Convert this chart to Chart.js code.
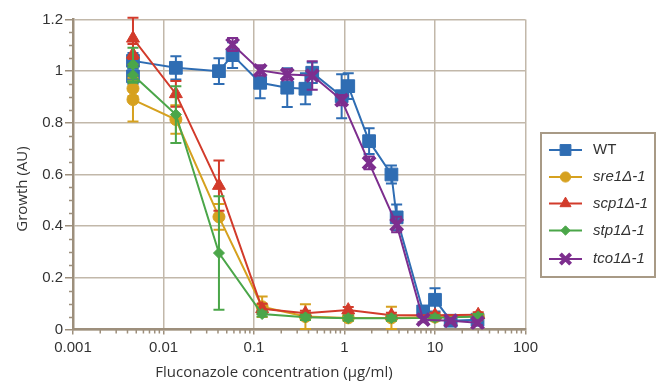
<!DOCTYPE html>
<html>
<head>
<meta charset="utf-8">
<script src="https://cdn.jsdelivr.net/npm/chart.js@4.4.1/dist/chart.umd.min.js"></script>
<style>
  html, body { margin: 0; padding: 0; background: #fff; }
  #wrap { width: 657px; height: 385px; position: relative; }
</style>
</head>
<body>
<div id="wrap"><canvas id="growthChart" width="657" height="385"></canvas></div>
<script>
// Konsentrasi flukonazol (µg/ml) dan nilai growth (AU) tiap strain
const seriesNames = ["WT", "sre1Δ-1", "scp1Δ-1", "stp1Δ-1", "tco1Δ-1"];

const wtConc = [0.0046, 0.0046, 0.0137, 0.041, 0.058, 0.117, 0.233, 0.37, 0.44, 0.93, 1.1, 1.87, 3.3, 3.77, 7.4, 10, 14.9, 29.5];
const wtGrowth = [0.98, 1.04, 1.013, 1.0, 1.062, 0.955, 0.936, 0.932, 0.994, 0.903, 0.942, 0.729, 0.6, 0.434, 0.07, 0.115, 0.034, 0.038];
const wtErr = [0.03, 0.03, 0.045, 0.05, 0.05, 0.06, 0.075, 0.06, 0.04, 0.085, 0.05, 0.05, 0.035, 0.05, 0.02, 0.045, 0.01, 0.01];

const mutantConc = [0.0046, 0.0046, 0.0137, 0.041, 0.123, 0.37, 1.1, 3.3, 10, 30];
const sre1Growth = [0.933, 0.89, 0.813, 0.436, 0.088, 0.05, 0.045, 0.045, 0.048, 0.05];
const sre1Err = [0.03, 0.085, 0.055, 0.05, 0.04, 0.048, 0.01, 0.043, 0.01, 0.01];
const scp1Growth = [1.065, 1.127, 0.912, 0.557, 0.08, 0.063, 0.075, 0.055, 0.055, 0.057];
const scp1Err = [0.04, 0.08, 0.05, 0.097, 0.02, 0.01, 0.012, 0.01, 0.01, 0.01];
const stp1Growth = [1.026, 0.985, 0.832, 0.296, 0.06, 0.047, 0.044, 0.044, 0.045, 0.05];
const stp1Err = [0.065, 0.03, 0.11, 0.22, 0.01, 0.01, 0.01, 0.01, 0.01, 0.01];

const tco1Conc = [0.058, 0.117, 0.233, 0.44, 0.93, 1.87, 3.77, 7.4, 14.9, 29.5];
const tco1Growth = [1.103, 1.003, 0.987, 0.983, 0.888, 0.645, 0.406, 0.038, 0.034, 0.026];
const tco1Err = [0.025, 0.02, 0.02, 0.055, 0.02, 0.025, 0.03, 0.01, 0.01, 0.01];

const xTickValues = [0.001, 0.01, 0.1, 1, 10, 100];
const xTickLabels = ["0.001", "0.01", "0.1", "1", "10", "100"];
const yTickLabels = ["0", "0.2", "0.4", "0.6", "0.8", "1", "1.2"];

const axisColor = "#9d8f7c";
const gridColor = "#c2b8aa";
const tickFont = { family: "'Liberation Sans', Arial, sans-serif", size: 15 };

function toPoints(xs, ys) {
  return xs.map((x, i) => ({ x: x, y: ys[i] }));
}

function makeDataset(label, xs, ys, errs, color, style, radius, order) {
  return {
    label: label,
    data: toPoints(xs, ys),
    errors: errs,
    borderColor: color,
    backgroundColor: color,
    borderWidth: 2,
    pointStyle: style,
    pointRadius: radius,
    pointHoverRadius: radius,
    pointBackgroundColor: color,
    pointBorderColor: color,
    pointBorderWidth: style === "crossRot" ? 4 : 1,
    showLine: true,
    tension: 0,
    order: order,
  };
}

const datasets = [
  makeDataset(seriesNames[0], wtConc, wtGrowth, wtErr, "#2f6db3", "rect", 9, 5),
  makeDataset(seriesNames[1], mutantConc, sre1Growth, sre1Err, "#d6a11f", "circle", 6, 4),
  makeDataset(seriesNames[2], mutantConc, scp1Growth, scp1Err, "#d23b2b", "triangle", 7.5, 3),
  makeDataset(seriesNames[3], mutantConc, stp1Growth, stp1Err, "#4ba649", "rectRot", 5.5, 2),
  makeDataset(seriesNames[4], tco1Conc, tco1Growth, tco1Err, "#7d2e8e", "crossRot", 8.5, 1),
];

// Error bar digambar sebelum garis dan titik tiap dataset
const errorBarPlugin = {
  id: "errorBars",
  beforeDatasetDraw(chart, args) {
    const ds = chart.data.datasets[args.index];
    if (!ds.errors) return;
    const yScale = chart.scales.y;
    const ctx = chart.ctx;
    ctx.save();
    ctx.strokeStyle = ds.borderColor;
    ctx.lineWidth = 2;
    args.meta.data.forEach((pt, i) => {
      const v = ds.data[i].y;
      const e = ds.errors[i];
      const top = yScale.getPixelForValue(v + e);
      const bot = yScale.getPixelForValue(v - e);
      ctx.beginPath();
      ctx.moveTo(pt.x, top);
      ctx.lineTo(pt.x, bot);
      ctx.moveTo(pt.x - 5.5, top);
      ctx.lineTo(pt.x + 5.5, top);
      ctx.moveTo(pt.x - 5.5, bot);
      ctx.lineTo(pt.x + 5.5, bot);
      ctx.stroke();
    });
    ctx.restore();
  },
};

// Minor tick, judul sumbu dan legenda dalam kotak
const decorPlugin = {
  id: "decor",
  afterDraw(chart) {
    const ctx = chart.ctx;
    const area = chart.chartArea;
    const xs = chart.scales.x;
    const ys = chart.scales.y;
    ctx.save();

    ctx.strokeStyle = axisColor;
    ctx.lineWidth = 1.5;
    ctx.beginPath();
    for (let v = 0.05; v < 1.2; v += 0.05) {
      if (Math.abs(v / 0.2 - Math.round(v / 0.2)) < 0.01) continue;
      const py = Math.round(ys.getPixelForValue(v)) + 0.5;
      ctx.moveTo(area.left - 4, py);
      ctx.lineTo(area.left, py);
    }
    for (let p = -3; p <= 1; p++) {
      for (let m = 2; m <= 9; m++) {
        const px = xs.getPixelForValue(m * Math.pow(10, p));
        ctx.moveTo(px, area.bottom);
        ctx.lineTo(px, area.bottom + 4);
      }
    }
    ctx.stroke();

    ctx.fillStyle = "#333";
    ctx.font = "15px 'Open Sans', sans-serif";
    ctx.textAlign = "center";
    ctx.textBaseline = "middle";
    ctx.fillText("Fluconazole concentration (µg/ml)", 274, 373);
    ctx.save();
    ctx.translate(23, 189);
    ctx.rotate(-Math.PI / 2);
    ctx.fillText("Growth (AU)", 0, 0);
    ctx.restore();

    // legenda
    const box = { left: 541, top: 133, right: 655, bottom: 277 };
    ctx.strokeStyle = "#a89a86";
    ctx.lineWidth = 2;
    ctx.strokeRect(box.left, box.top, box.right - box.left, box.bottom - box.top);
    const rows = [150, 177, 203.5, 230.5, 259];
    chart.data.datasets.forEach((ds, i) => {
      const y = rows[i];
      ctx.strokeStyle = ds.borderColor;
      ctx.lineWidth = 2;
      ctx.beginPath();
      ctx.moveTo(549, y);
      ctx.lineTo(582, y);
      ctx.stroke();
      ctx.fillStyle = ds.borderColor;
      ctx.lineWidth = ds.pointBorderWidth;
      Chart.helpers.drawPoint(ctx, {
        pointStyle: ds.pointStyle,
        radius: ds.pointRadius * 0.85,
        rotation: 0,
        borderWidth: ds.pointBorderWidth,
      }, 565.5, y);
      ctx.fillStyle = "#333";
      ctx.textAlign = "left";
      ctx.font = (i === 0 ? "" : "italic ") + "15px 'Liberation Sans', Arial, sans-serif";
      ctx.fillText(ds.label, 593, y);
    });
    ctx.restore();
  },
};

new Chart(document.getElementById("growthChart"), {
  type: "scatter",
  data: { datasets: datasets },
  options: {
    responsive: false,
    animation: false,
    layout: { padding: { top: 19.5, right: 131.5, left: 0, bottom: 0 } },
    plugins: {
      legend: { display: false },
      tooltip: { enabled: false },
    },
    scales: {
      x: {
        type: "logarithmic",
        min: 0.001,
        max: 100,
        afterBuildTicks: (s) => {
          s.ticks = xTickValues.map((v) => ({ value: v }));
        },
        afterFit: (s) => {
          s.height = 55.5;
        },
        ticks: {
          autoSkip: false,
          maxRotation: 0,
          padding: 4,
          color: "#333",
          font: tickFont,
          callback: (v, i) => xTickLabels[i],
        },
        grid: { color: gridColor, lineWidth: 1.5, tickLength: 5, tickColor: axisColor },
        border: { color: axisColor, width: 2.5 },
      },
      y: {
        min: 0,
        max: 1.2,
        afterFit: (s) => {
          s.width = 73;
        },
        ticks: {
          stepSize: 0.2,
          padding: 2,
          color: "#333",
          font: tickFont,
          callback: (v, i) => yTickLabels[i],
        },
        grid: { color: gridColor, lineWidth: 1.5, tickLength: 8, tickColor: axisColor },
        border: { color: axisColor, width: 2.5 },
      },
    },
  },
  plugins: [errorBarPlugin, decorPlugin],
});
</script>
</body>
</html>
